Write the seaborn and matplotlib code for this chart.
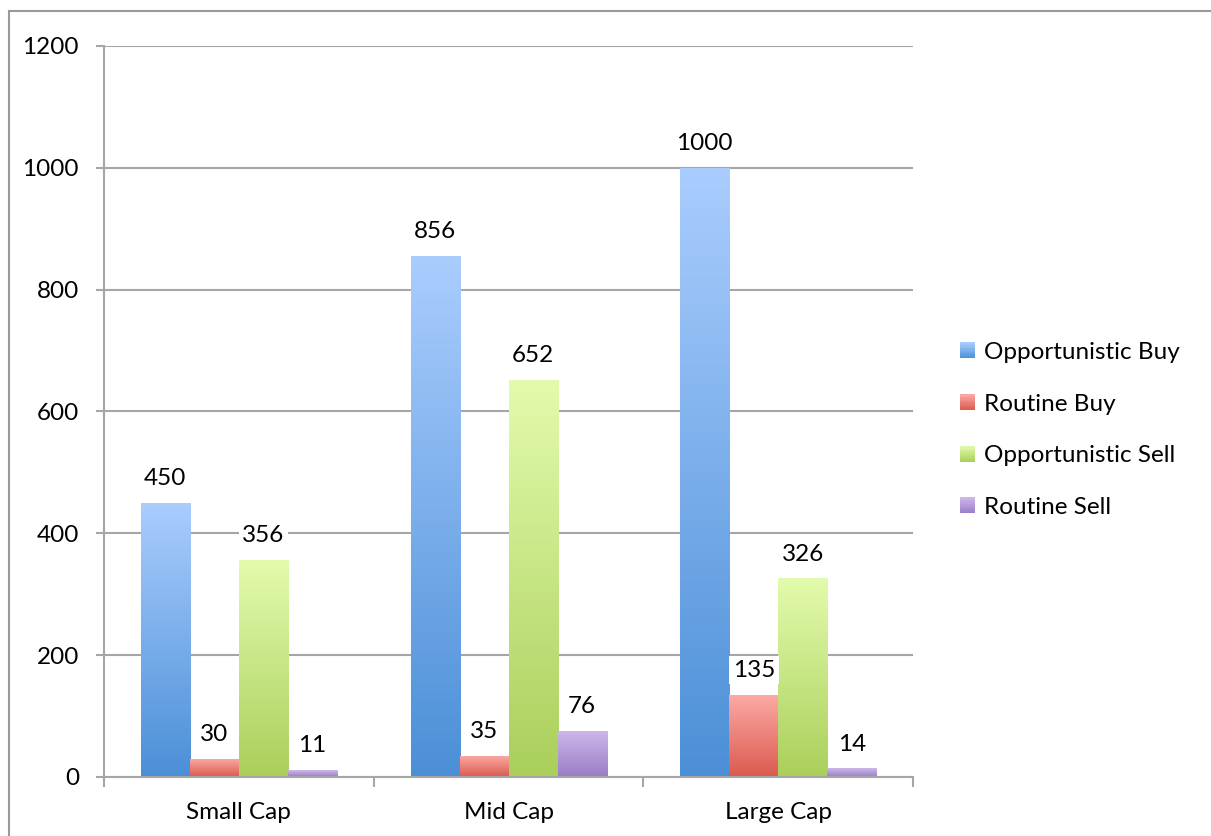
import numpy as np
import pandas as pd
import matplotlib
matplotlib.use("Agg")
import matplotlib.pyplot as plt
import seaborn as sns
from matplotlib.colors import LinearSegmentedColormap
from matplotlib.patches import Rectangle
from matplotlib.legend_handler import HandlerBase

# Data
categories = ["Small Cap", "Mid Cap", "Large Cap"]
series = ["Opportunistic Buy", "Routine Buy", "Opportunistic Sell", "Routine Sell"]
opportunistic_buy = [450, 856, 1000]
routine_buy = [30, 35, 135]
opportunistic_sell = [356, 652, 326]
routine_sell = [11, 76, 14]
y_ticks = [0, 200, 400, 600, 800, 1000, 1200]

# gradient (top colour, bottom colour) per series
gradients = {
    "Opportunistic Buy": ("#aacdfe", "#4b8fd7"),
    "Routine Buy": ("#fcaaa6", "#db5a4f"),
    "Opportunistic Sell": ("#e3fbad", "#aacf5b"),
    "Routine Sell": ("#cdb8ea", "#9a7dc6"),
}

df = pd.DataFrame({
    "category": np.repeat(categories, len(series)),
    "series": series * len(categories),
    "value": np.ravel(np.column_stack([opportunistic_buy, routine_buy,
                                        opportunistic_sell, routine_sell])),
})

sns.set_theme(style="white")
plt.rcParams["font.family"] = ["Lato", "DejaVu Sans"]
plt.rcParams["text.color"] = "black"
plt.rcParams["xtick.labelcolor"] = "black"
plt.rcParams["ytick.labelcolor"] = "black"
FS = 17.5

fig = plt.figure(figsize=(12.11, 8.36), dpi=100)
ax = fig.add_axes([0.0859, 0.0706, 0.6681, 0.8744])

mid_colors = {k: tuple((np.array(matplotlib.colors.to_rgb(a)) +
                        np.array(matplotlib.colors.to_rgb(b))) / 2)
              for k, (a, b) in gradients.items()}

sns.barplot(data=df, x="category", y="value", hue="series", hue_order=series,
            order=categories, palette=mid_colors, width=0.727, ax=ax,
            saturation=1, legend=False, linewidth=0)

ax.set_xlim(-0.5, 2.5)
ax.set_ylim(0, 1200)
ax.set_yticks(y_ticks)
ax.set_xlabel("")
ax.set_ylabel("")

grid_c = "#a6a6a6"
ax.yaxis.grid(True, color=grid_c, linewidth=1.5)
ax.set_axisbelow(True)
for s in ["top", "right"]:
    ax.spines[s].set_visible(False)
for s in ["left", "bottom"]:
    ax.spines[s].set_color(grid_c)
    ax.spines[s].set_linewidth(1.5)

ax.set_xticks([0, 1, 2])
ax.set_xticklabels(categories)
ax.set_xticks([-0.5, 0.5, 1.5, 2.5], minor=True)
ax.tick_params(axis="x", which="major", length=0, pad=18, labelsize=FS,
               labelcolor="black")
ax.tick_params(axis="x", which="minor", length=7, width=1.5, color=grid_c,
               direction="out", bottom=True)
ax.tick_params(axis="y", length=6, width=1.5, color=grid_c, direction="out",
               left=True, pad=12, labelsize=FS, labelcolor="black")

# gradient fills clipped to each bar
for container, name in zip(ax.containers, series):
    top, bot = gradients[name]
    cmap = LinearSegmentedColormap.from_list(name, [bot, top])
    grad = np.linspace(0, 1, 256).reshape(-1, 1)
    for bar in container:
        x0, y0 = bar.get_x(), bar.get_y()
        w, h = bar.get_width(), bar.get_height()
        im = ax.imshow(grad, cmap=cmap, origin="lower", aspect="auto",
                       extent=[x0, x0 + w, y0, y0 + h], zorder=bar.get_zorder())
        im.set_clip_path(bar)
    ax.bar_label(container, labels=[f"{v:g}" for v in container.datavalues],
                 padding=10, fontsize=FS, color="black",
                 bbox=dict(boxstyle="square,pad=0.15", fc="white", ec="none"))
ax.set_xlim(-0.5, 2.5)
ax.set_ylim(0, 1200)


class GradientHandler(HandlerBase):
    def __init__(self, top, bot):
        super().__init__()
        self.top, self.bot = top, bot

    def create_artists(self, legend, orig_handle, xdescent, ydescent,
                       width, height, fontsize, trans):
        n = 12
        arts = []
        c0 = np.array(matplotlib.colors.to_rgb(self.bot))
        c1 = np.array(matplotlib.colors.to_rgb(self.top))
        for i in range(n):
            t = (i + 0.5) / n
            r = Rectangle((-xdescent, -ydescent + height * i / n), width,
                          height / n + 0.3, fc=tuple(c0 + (c1 - c0) * t),
                          ec="none", transform=trans)
            arts.append(r)
        return arts


handles = [Rectangle((0, 0), 1, 1) for _ in series]
handler_map = {h: GradientHandler(*gradients[n]) for h, n in zip(handles, series)}
fig.legend(handles, series, handler_map=handler_map, loc="center left",
           bbox_to_anchor=(0.775, 0.4856), frameon=False, fontsize=FS,
           handlelength=0.62, handleheight=0.62, handletextpad=0.35,
           labelspacing=1.26, labelcolor="black")

# outer frame
fig.add_artist(Rectangle((9 / 1211, -0.1), 1.2, 1.1 - 11 / 836,
                         transform=fig.transFigure, fill=False,
                         ec="#9a9a9a", lw=1.5))

fig.savefig("out.png", dpi=100)
